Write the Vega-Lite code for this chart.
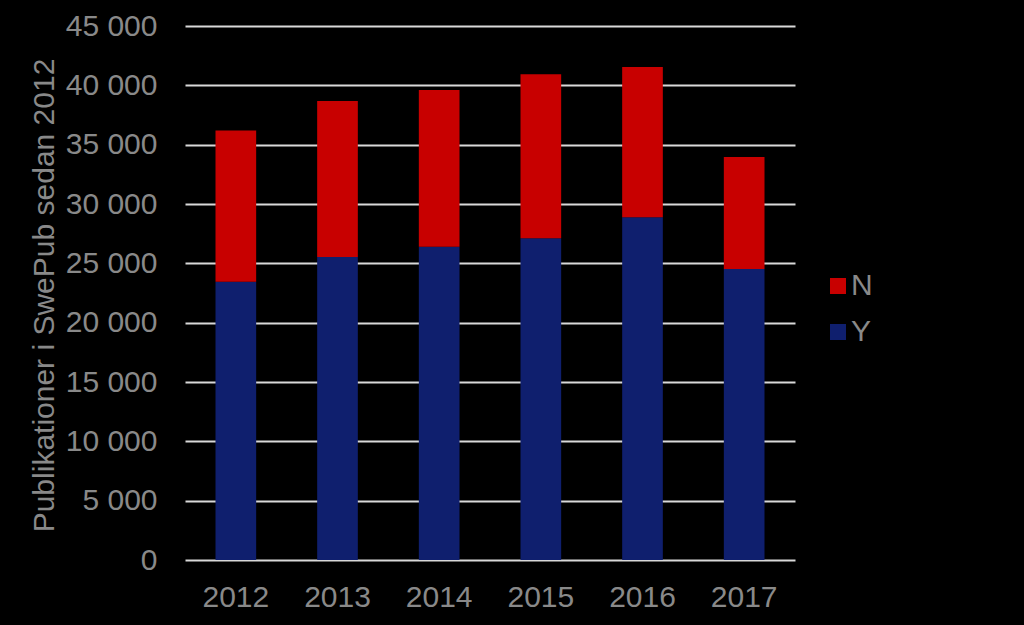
{
  "$schema": "https://vega.github.io/schema/vega-lite/v6.json",
  "autosize": "none",
  "width": 610,
  "height": 534,
  "padding": {"left": 185, "top": 26, "right": 229, "bottom": 65},
  "background": "#000000",
  "config": {
    "view": {"stroke": null},
    "font": "Liberation Sans",
    "axis": {"domain": false, "ticks": false, "labelColor": "#898989", "titleColor": "#898989", "labelFont": "Liberation Sans", "titleFont": "Liberation Sans", "titleFontWeight": "normal"},
    "legend": {"labelColor": "#898989", "labelFont": "Liberation Sans"}
  },
  "data": {
    "values": [
      {"year": "2012", "status": "Y", "count": 23450},
      {"year": "2012", "status": "N", "count": 12750},
      {"year": "2013", "status": "Y", "count": 25530},
      {"year": "2013", "status": "N", "count": 13150},
      {"year": "2014", "status": "Y", "count": 26400},
      {"year": "2014", "status": "N", "count": 13210},
      {"year": "2015", "status": "Y", "count": 27110},
      {"year": "2015", "status": "N", "count": 13820},
      {"year": "2016", "status": "Y", "count": 28880},
      {"year": "2016", "status": "N", "count": 12670},
      {"year": "2017", "status": "Y", "count": 24520},
      {"year": "2017", "status": "N", "count": 9440}
    ]
  },
  "mark": {"type": "bar"},
  "encoding": {
    "x": {
      "field": "year", "type": "ordinal",
      "scale": {"paddingInner": 0.6, "paddingOuter": 0.3},
      "axis": {"title": null, "labelAngle": 0, "labelFontSize": 30, "labelPadding": 22, "grid": false}
    },
    "y": {
      "field": "count", "type": "quantitative", "stack": "zero",
      "scale": {"domain": [0, 45000], "nice": false},
      "axis": {
        "title": "Publikationer i SwePub sedan 2012",
        "titleFontSize": 30,
        "titleX": -141, "titleY": 269, "titleAngle": 270, "titleBaseline": "middle", "titleAlign": "center",
        "values": [0, 5000, 10000, 15000, 20000, 25000, 30000, 35000, 40000, 45000],
        "labelExpr": "replace(format(datum.value, ','), ',', ' ')",
        "labelFontSize": 30, "labelPadding": 28,
        "grid": true, "gridColor": "#D9D9D9", "gridWidth": 2, "gridOpacity": 1
      }
    },
    "color": {
      "field": "status", "type": "nominal",
      "scale": {"domain": ["N", "Y"], "range": ["#C80000", "#0F1F6E"]},
      "legend": {
        "title": null, "orient": "none", "legendX": 638, "legendY": 245,
        "symbolType": "square", "symbolSize": 256, "symbolStrokeWidth": 0,
        "labelFontSize": 30, "rowPadding": 16, "labelOffset": -2
      }
    },
    "order": {"field": "status", "sort": "descending"}
  }
}
